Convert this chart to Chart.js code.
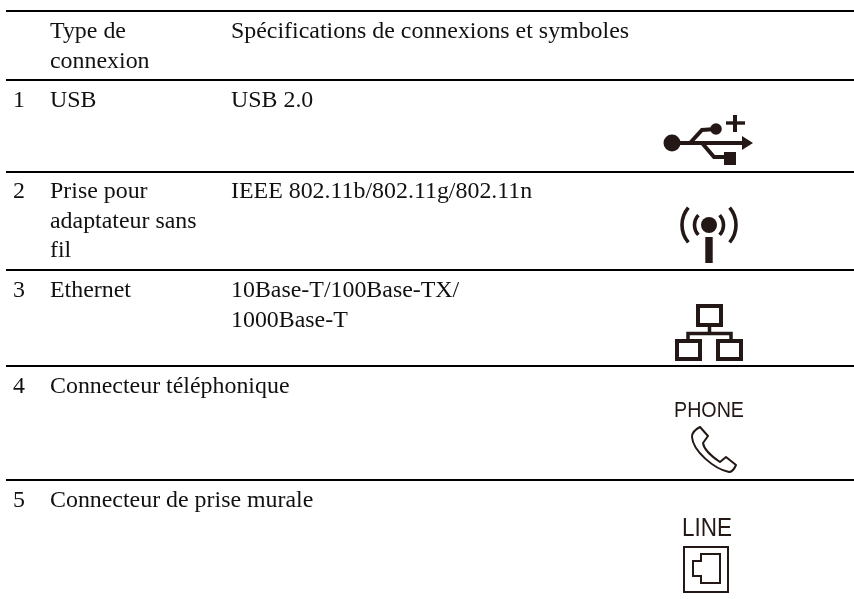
<!DOCTYPE html>
<html>
<head>
<meta charset="utf-8">
<style>
  html, body { margin: 0; padding: 0; background: #fff; overflow: hidden; }
  canvas { display: block; }
</style>
<script src="https://cdn.jsdelivr.net/npm/chart.js@4/dist/chart.umd.min.js"></script>
</head>
<body>
<canvas id="chart" width="854" height="599"></canvas>
<script>
// table content
const headerType = ['Type de', 'connexion'];
const headerSpec = ['Spécifications de connexions et symboles'];
const rowNumbers = ['1', '2', '3', '4', '5'];
const connectionTypes = [
  ['USB'],
  ['Prise pour', 'adaptateur sans', 'fil'],
  ['Ethernet'],
  ['Connecteur téléphonique'],
  ['Connecteur de prise murale']
];
const connectionSpecs = [
  ['USB 2.0'],
  ['IEEE 802.11b/802.11g/802.11n'],
  ['10Base-T/100Base-TX/', '1000Base-T'],
  [],
  []
];
const iconNames = ['usb', 'wifi', 'ethernet', 'phone', 'line'];

// layout, in page pixels (the scales below run 0-854 and 0-599)
const ruleYs = [11, 80, 172, 270, 366, 480];
const rowBaselines = [107, 198, 297, 393, 507];
const iconCentres = [[708, 140], [709, 230], [709, 332], [709, 445], [706, 570]];
const numX = 13, typeX = 50, specX = 231, ruleLeft = 6, ruleRight = 854;
const lineGap = 29.5;
const ink = '#231815';
const textFont = '23.9px "Liberation Serif"';

function makeIcon(draw) {
  const c = document.createElement('canvas');
  c.width = 120;
  c.height = 80;
  const g = c.getContext('2d');
  g.translate(60, 40);
  g.fillStyle = ink;
  g.strokeStyle = ink;
  draw(g);
  return c;
}

function seg(g, pts, w) {
  g.lineWidth = w;
  g.beginPath();
  pts.forEach(([x, y], i) => i ? g.lineTo(x, y) : g.moveTo(x, y));
  g.stroke();
}

function dot(g, x, y, r) {
  g.beginPath();
  g.arc(x, y, r, 0, Math.PI * 2);
  g.fill();
}

const iconDraw = {
  usb(g) {
    dot(g, -36, 3, 8.5);
    seg(g, [[-36, 3], [36, 3]], 3.8);
    g.beginPath();
    g.moveTo(45, 3); g.lineTo(34, -4); g.lineTo(34, 10);
    g.fill();
    seg(g, [[-18, 3], [-6, -10], [8, -11]], 4);
    dot(g, 8, -11, 5.8);
    seg(g, [[-6, 3], [6, 17], [18, 17]], 4);
    g.fillRect(16, 12, 12, 13);
    seg(g, [[18, -17], [37, -17]], 3.4);
    seg(g, [[27, -25], [27, -8]], 4);
  },
  wifi(g) {
    dot(g, 0, -5, 8);
    g.fillRect(-3.7, 7, 7.4, 26);
    g.lineWidth = 3.6;
    [[14.5, 0.75], [27, 0.7]].forEach(([r, a]) => {
      g.beginPath();
      g.arc(0, -5, r, -a, a);
      g.stroke();
      g.beginPath();
      g.arc(0, -5, r, Math.PI - a, Math.PI + a);
      g.stroke();
    });
  },
  ethernet(g) {
    g.lineWidth = 4;
    g.strokeRect(-11, -26, 23, 19);
    g.strokeRect(-32, 9, 23, 18);
    g.strokeRect(9, 9, 23, 18);
    seg(g, [[0.5, -5], [0.5, 1.5]], 3.5);
    seg(g, [[-21, 8], [-21, 1.5], [22, 1.5], [22, 8]], 3.5);
  },
  phone(g) {
    // local origin sits at page (709, 445)
    g.lineWidth = 2;
    g.lineJoin = 'round';
    g.beginPath();
    g.moveTo(-9, -18);
    g.quadraticCurveTo(-17, -14, -17, -8);
    g.bezierCurveTo(-16, 6, 5, 24, 20, 27);
    g.quadraticCurveTo(24, 27, 27, 20);
    g.lineTo(17, 12);
    g.lineTo(11, 17);
    g.bezierCurveTo(5, 13, -5, 5, -6, -2);
    g.lineTo(-1, -9);
    g.closePath();
    g.stroke();
  },
  line(g) {
    // local origin sits at page (706, 570)
    g.lineWidth = 2;
    g.strokeRect(-22, -23, 44, 45);
    g.beginPath();
    g.moveTo(-5, -16);
    g.lineTo(14, -16);
    g.lineTo(14, 13);
    g.lineTo(-5, 13);
    g.lineTo(-5, 6);
    g.lineTo(-13, 6);
    g.lineTo(-13, -9);
    g.lineTo(-5, -9);
    g.closePath();
    g.stroke();
  }
};

const iconImages = iconNames.map(n => makeIcon(iconDraw[n]));

// text goes on through the scales, same as the rules and icons
const tableText = {
  id: 'tableText',
  afterDatasetsDraw(chart) {
    const { ctx, scales: { x, y } } = chart;
    const put = (str, px, py, font, maxW) => {
      ctx.font = font || textFont;
      ctx.fillText(str, x.getPixelForValue(px), y.getPixelForValue(py), maxW);
    };
    const block = (lines, px, py) => lines.forEach((s, i) => put(s, px, py + i * lineGap));
    ctx.save();
    ctx.fillStyle = '#111';
    ctx.textBaseline = 'alphabetic';
    block(headerType, typeX, 38);
    block(headerSpec, specX, 38);
    rowNumbers.forEach((n, i) => {
      put(n, numX, rowBaselines[i]);
      block(connectionTypes[i], typeX, rowBaselines[i]);
      block(connectionSpecs[i], specX, rowBaselines[i]);
    });
    ctx.fillStyle = ink;
    // the icon labels are a bit condensed in the original
    put('PHONE', 674, 417, '22px "Liberation Sans"', 70);
    put('LINE', 682, 536, '25.5px "Liberation Sans"', 50);
    ctx.restore();
  }
};

const ruleSets = ruleYs.map(yv => ({
  type: 'line',
  data: [{ x: ruleLeft, y: yv }, { x: ruleRight, y: yv }],
  borderColor: '#000',
  borderWidth: 2,
  pointRadius: 0,
  clip: false
}));

const iconSet = {
  type: 'scatter',
  data: iconCentres.map(([x, y]) => ({ x, y })),
  pointStyle: iconImages,
  clip: false
};

new Chart(document.getElementById('chart'), {
  data: { datasets: [...ruleSets, iconSet] },
  options: {
    responsive: false,
    animation: false,
    layout: { padding: 0, autoPadding: false },
    plugins: { legend: { display: false }, tooltip: { enabled: false } },
    scales: {
      x: { type: 'linear', min: 0, max: 854, display: false },
      y: { type: 'linear', min: 0, max: 599, reverse: true, display: false }
    }
  },
  plugins: [tableText]
});
</script>
</body>
</html>
